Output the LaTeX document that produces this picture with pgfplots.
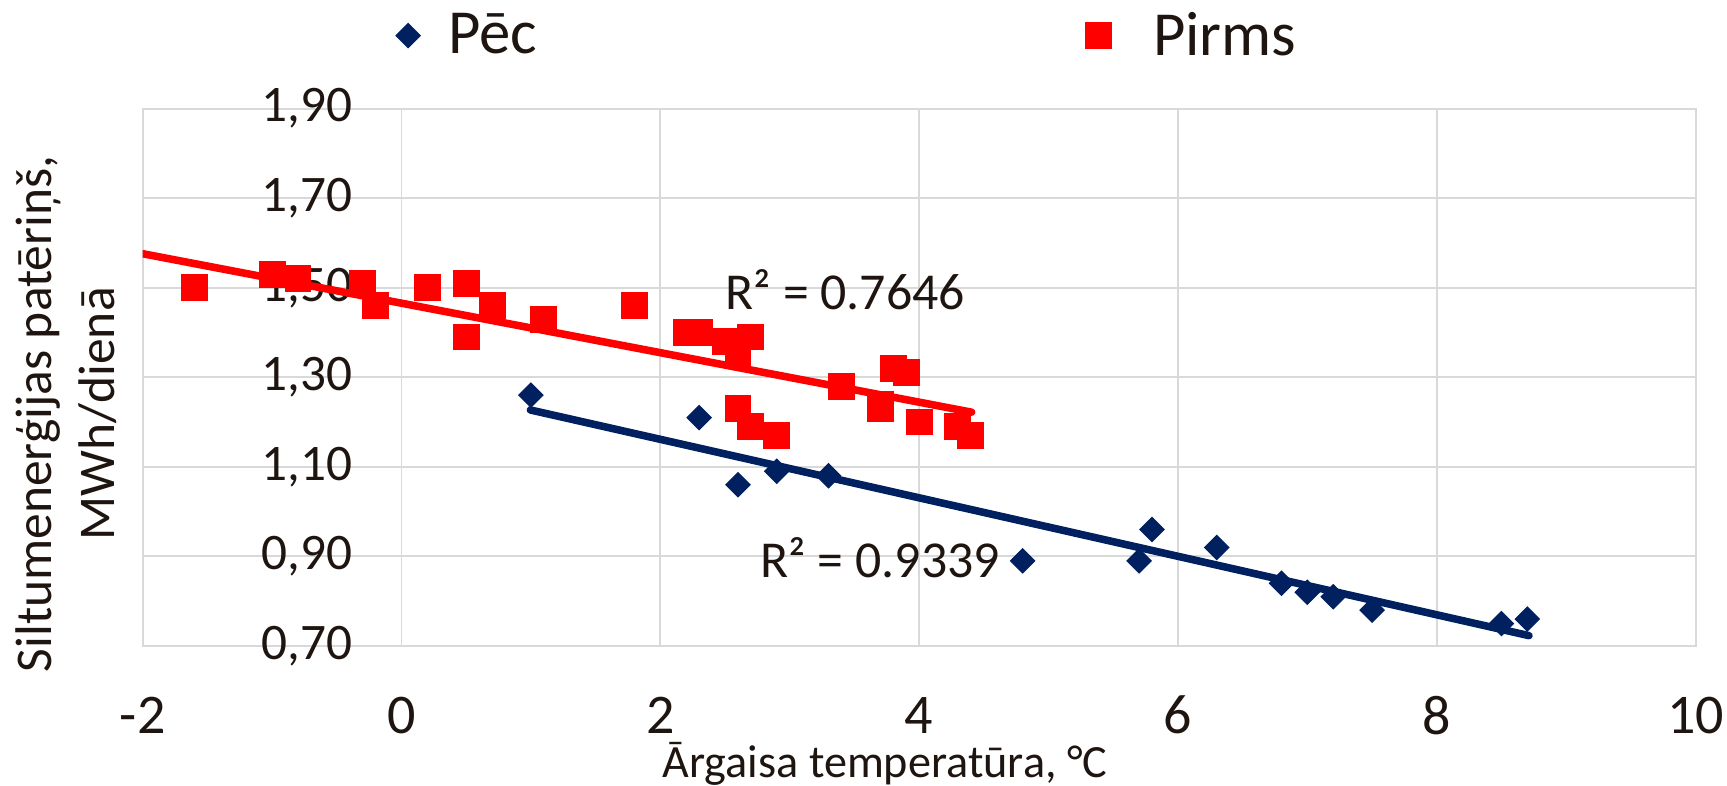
\documentclass[border=0pt]{standalone}
\usepackage{fontspec}
\setmainfont{Carlito}
\usepackage{pgfplots}
\pgfplotsset{compat=1.18}
\definecolor{pirms}{HTML}{FF0000}
\definecolor{pec}{HTML}{002060}
\definecolor{gridc}{HTML}{D9D9D9}
\definecolor{txt}{HTML}{1F1510}

\begin{document}
\begin{tikzpicture}
\begin{axis}[
  at={(50.96pt,50pt)}, anchor=south west,
  scale only axis, width=554.6pt, height=191.9pt,
  xmin=-2, xmax=10, ymin=0.7, ymax=1.9,
  xtick={-2,0,2,4,6,8,10}, ytick={0.7,0.9,1.1,1.3,1.5,1.7,1.9},
  major tick length=0pt,
  grid=major, grid style={draw=gridc, line width=0.7pt},
  axis line style={draw=gridc, line width=0.7pt},
  /pgf/number format/assume math mode=true,
  xticklabel style={font=\fontsize{20}{24}\selectfont, text=txt, anchor=center, yshift=-24.7pt},
  yticklabel style={font=\fontsize{18.3}{22}\selectfont, text=txt, anchor=east, inner sep=0pt, xshift=75pt,
    /pgf/number format/.cd, fixed, fixed zerofill, precision=2, use comma},
  xlabel={Ārgaisa temperatūra, °C},
  xlabel style={font=\fontsize{16.5}{20}\selectfont, text=txt, at={(axis description cs:0.478,-0.244)}, anchor=base},
  ylabel={Siltumenerģijas patēriņš,\\MWh/dienā},
  ylabel style={font=\fontsize{18.4}{22.6}\selectfont, text=txt, align=center, at={(axis description cs:-0.0491,0.432)}, anchor=center},
  legend columns=2,
  legend style={draw=none, fill=none, font=\fontsize{22.4}{26}\selectfont, text=txt,
    at={(axis description cs:0.1574,1.136)}, anchor=west,
    /tikz/every even column/.append style={column sep=193.8pt}},
]
% Pec
\addplot[only marks, mark=square*, mark size=3.05pt, mark options={rotate=45}, color=pec] coordinates {
(1.0,1.26) (2.3,1.21) (2.6,1.06) (2.9,1.09) (3.3,1.08) (4.8,0.89) (5.7,0.89) (5.8,0.96)
(6.3,0.92) (6.8,0.84) (7.0,0.82) (7.2,0.81) (7.5,0.78) (8.5,0.75) (8.7,0.76)};
\addlegendentry{\hspace{8pt}Pēc}
% Pirms
\addplot[only marks, mark=square*, mark size=4.6pt, color=pirms] coordinates {
(-1.6,1.50) (-1.0,1.53) (-0.8,1.52) (-0.3,1.51) (-0.2,1.46) (0.2,1.50) (0.5,1.51) (0.5,1.39)
(0.7,1.46) (1.1,1.43) (1.8,1.46) (2.2,1.40) (2.3,1.40) (2.5,1.38) (2.6,1.35) (2.7,1.39)
(2.6,1.23) (2.7,1.19) (2.9,1.17) (3.4,1.28) (3.7,1.24) (3.7,1.23) (3.8,1.32) (3.9,1.31)
(4.0,1.20) (4.3,1.19) (4.4,1.17)};
\addlegendentry{\hspace{13pt}Pirms}
% trend lines
\addplot[pec, line width=2.7pt, line cap=round, forget plot] coordinates {(0.996,1.227) (8.713,0.723)};
\addplot[pirms, line width=2.7pt, line cap=round, forget plot] coordinates {(-2,1.576) (4.406,1.222)};
\node[font=\fontsize{18.5}{22}\selectfont, text=txt] at (axis cs:3.43,1.495) {R² = 0.7646};
\node[font=\fontsize{18.5}{22}\selectfont, text=txt] at (axis cs:3.70,0.898) {R² = 0.9339};
\end{axis}
\pgfresetboundingbox
\useasboundingbox (0,0) rectangle (616.8pt,280.7pt);
\end{tikzpicture}
\end{document}
